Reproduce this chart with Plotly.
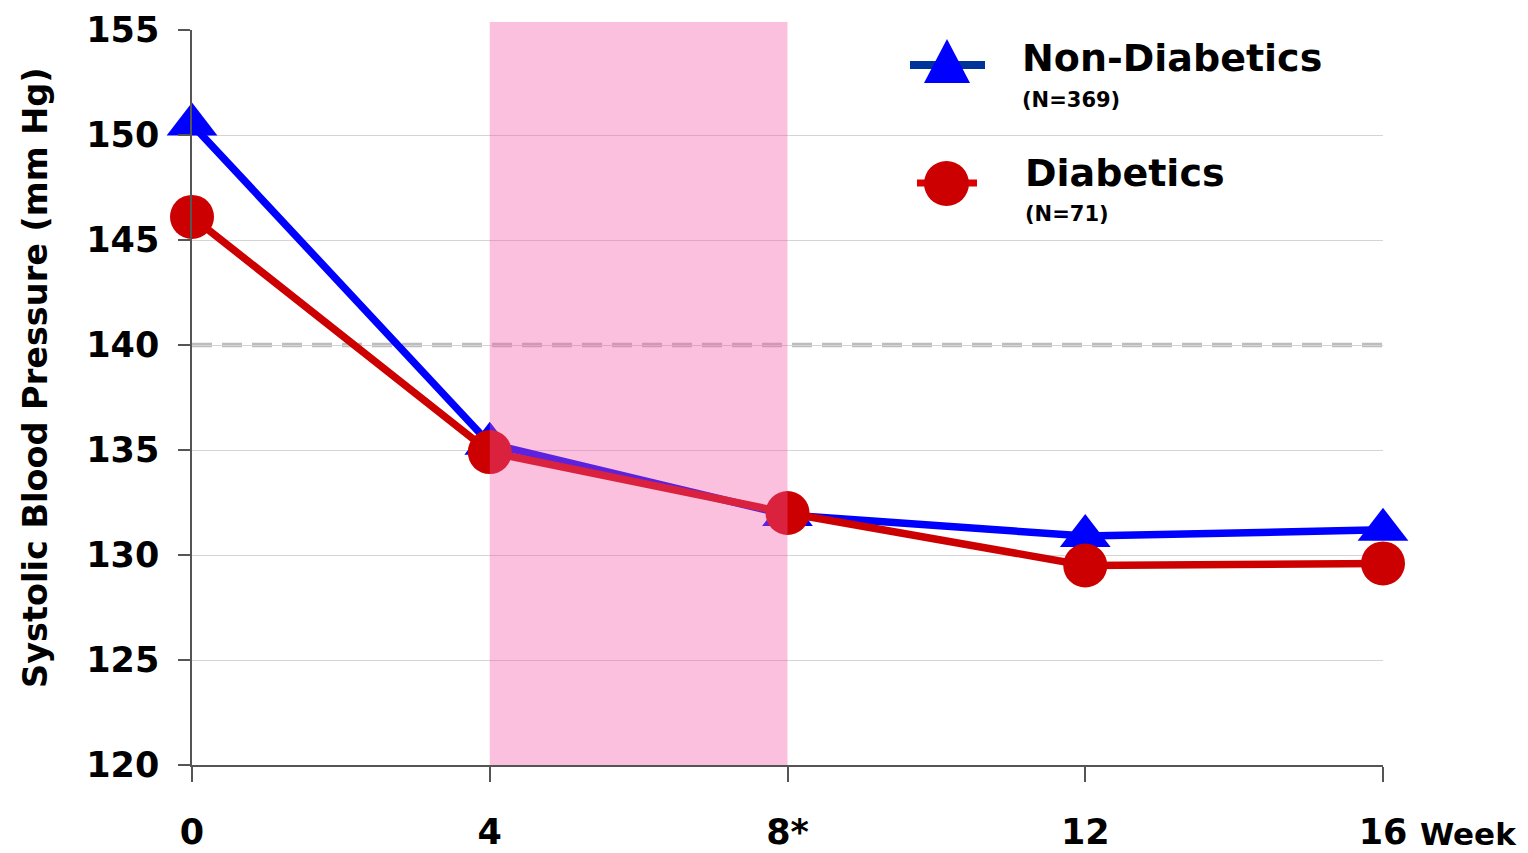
import plotly.graph_objects as go

# ---- data ----
weeks = [0, 4, 8, 12, 16]
week_labels = ["0", "4", "8*", "12", "16"]
non_diabetics = [150.5, 135.3, 131.9, 130.9, 131.2]
diabetics = [146.1, 134.9, 132.0, 129.5, 129.6]
y_ticks = [120, 125, 130, 135, 140, 145, 150, 155]
target_sbp = 140
shaded_weeks = [4, 8]

FONT = "DejaVu Sans"
OFF = 8  # page body margin
W, H = 1520, 845
L, R, T, B = 184, 145, 22, 88
PW, PH = W - L - R, H - T - B


def px(x):  # screen pixel -> paper
    return (x - OFF - L) / PW


def py(y):
    return (H - B - (y - OFF)) / PH


fig = go.Figure()
fig.add_trace(go.Scatter(
    x=weeks, y=non_diabetics, mode="lines+markers", name="Non-Diabetics",
    line=dict(color="#0000ff", width=7.5),
    marker=dict(symbol="triangle-up", size=44, color="#0000ff"),
    cliponaxis=False, showlegend=False))
fig.add_trace(go.Scatter(
    x=weeks, y=diabetics, mode="lines+markers", name="Diabetics",
    line=dict(color="#cc0000", width=7.5),
    marker=dict(symbol="circle", size=44, color="#cc0000"),
    cliponaxis=False, showlegend=False))

shapes = []
shapes.append(dict(type="line", xref="paper", yref="y", x0=0, x1=1,
                   y0=target_sbp, y1=target_sbp,
                   line=dict(color="#bdbdbd", width=4.5, dash="20px,10px"),
                   layer="below"))
shapes.append(dict(type="rect", xref="x", yref="paper",
                   x0=shaded_weeks[0], x1=shaded_weeks[1], y0=0, y1=1 + 8 / PH,
                   fillcolor="#f25aa5", opacity=0.38, line=dict(width=0),
                   layer="above"))
# legend symbols
shapes.append(dict(type="line", xref="paper", yref="paper",
                   x0=px(910), x1=px(985), y0=py(65), y1=py(65),
                   line=dict(color="#003399", width=8)))
shapes.append(dict(type="path", xref="paper", yref="paper",
                   path=f"M {px(924)},{py(83)} L {px(970)},{py(83)} L {px(947)},{py(39)} Z",
                   fillcolor="#0000ff", line=dict(width=0)))
shapes.append(dict(type="line", xref="paper", yref="paper",
                   x0=px(917), x1=px(977), y0=py(183), y1=py(183),
                   line=dict(color="#dd0000", width=7)))
shapes.append(dict(type="circle", xref="paper", yref="paper",
                   x0=px(924), x1=px(969), y0=py(206), y1=py(161),
                   fillcolor="#cc0000", line=dict(width=0)))

annotations = [
    dict(text="Systolic Blood Pressure (mm Hg)", xref="paper", yref="paper",
         x=px(35), y=py(378), textangle=-90, showarrow=False,
         xanchor="center", yanchor="middle",
         font=dict(family=FONT, size=33.5, color="black", weight="bold")),
    dict(text="Week", xref="x", yref="paper", x=16, y=py(834), xanchor="left",
         yanchor="middle", xshift=35, showarrow=False,
         font=dict(family=FONT, size=31, color="black", weight="bold")),
    dict(text="Non-Diabetics", xref="paper", yref="paper", x=px(1020), y=py(58),
         xanchor="left", yanchor="middle", showarrow=False,
         font=dict(family=FONT, size=38, color="black", weight="bold")),
    dict(text="(N=369)", xref="paper", yref="paper", x=px(1020), y=py(100),
         xanchor="left", yanchor="middle", showarrow=False,
         font=dict(family=FONT, size=21, color="black", weight="bold")),
    dict(text="Diabetics", xref="paper", yref="paper", x=px(1023), y=py(173),
         xanchor="left", yanchor="middle", showarrow=False,
         font=dict(family=FONT, size=38, color="black", weight="bold")),
    dict(text="(N=71)", xref="paper", yref="paper", x=px(1023), y=py(214),
         xanchor="left", yanchor="middle", showarrow=False,
         font=dict(family=FONT, size=21, color="black", weight="bold")),
]

fig.update_layout(
    template="none",
    width=W, height=H,
    margin=dict(l=L, r=R, t=T, b=B, pad=0, autoexpand=False),
    plot_bgcolor="white", paper_bgcolor="white",
    shapes=shapes, annotations=annotations,
    showlegend=False,
    xaxis=dict(range=[0, 16], tickvals=weeks, ticktext=week_labels,
               automargin=False,
               showgrid=False, zeroline=False, showline=True,
               linecolor="#555555", linewidth=1.5,
               ticks="outside", ticklen=15, tickcolor="#555555", tickwidth=1.5,
               ticklabelstandoff=20,
               tickfont=dict(family=FONT, size=35, color="black", weight="bold")),
    yaxis=dict(range=[120, 155], tickvals=y_ticks, automargin=False,
               showgrid=True, gridcolor="#d4d4d4", gridwidth=1,
               zeroline=False, showline=True,
               linecolor="#555555", linewidth=1.5,
               ticks="outside", ticklen=12, tickcolor="#555555", tickwidth=1.5,
               ticklabelstandoff=12,
               tickfont=dict(family=FONT, size=35, color="black", weight="bold")),
)

fig.write_html("out.html")
